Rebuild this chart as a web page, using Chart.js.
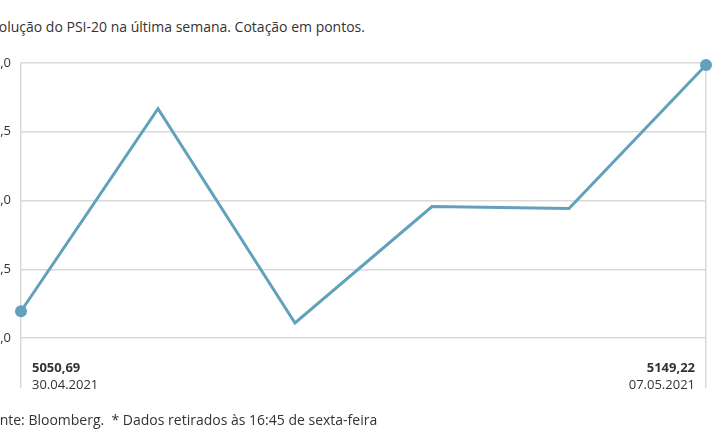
<!DOCTYPE html>
<html lang="pt">
<head>
<meta charset="utf-8">
<script src="https://cdn.jsdelivr.net/npm/chart.js@4/dist/chart.umd.min.js"></script>
<style>
    html, body { margin: 0; padding: 0; background: #fff; overflow: hidden; }
    body { width: 715px; height: 445px; position: relative; font-family: "Open Sans", sans-serif; color: #333; }
    #title { position: absolute; left: -16px; top: 17px; font-size: 14px; white-space: nowrap; }
    #source { position: absolute; left: -16px; top: 410px; font-size: 14px; white-space: nowrap; }
    #wrap { position: absolute; left: -39px; top: 0; width: 754px; height: 445px; }
</style>
</head>
<body>
<div id="title">Evolução do PSI-20 na última semana. Cotação em pontos.</div>
<div id="wrap"><canvas id="psiChart"></canvas></div>
<div id="source">Fonte: Bloomberg.&nbsp; * Dados retirados às 16:45 de sexta-feira</div>
<script>
// Cotação diária do PSI-20 (pontos)
const days = ['30.04.2021', '03.05.2021', '04.05.2021', '05.05.2021', '06.05.2021', '07.05.2021'];
const closes = [5050.69, 5131.7, 5046.0, 5092.6, 5091.8, 5149.22];
const yTicks = [5040, 5067.5, 5095, 5122.5, 5150];

const lineColor = '#62a1bb';
const gridColor = '#d9d9d9';

function formatPt(v, digits) {
    return v.toFixed(digits).replace('.', ',');
}

// Valor e data no início e no fim, por baixo do gráfico
const endLabels = {
    id: 'endLabels',
    afterDraw(chart) {
        const ctx = chart.ctx;
        const x = chart.scales.x;
        const bottom = chart.chartArea.bottom;
        const last = days.length - 1;
        const items = [
            { i: 0, align: 'left', dx: 11 },
            { i: last, align: 'right', dx: -11 }
        ];
        ctx.save();
        ctx.fillStyle = '#333';
        items.forEach(it => {
            const px = x.getPixelForValue(it.i) + it.dx;
            ctx.textAlign = it.align;
            ctx.textBaseline = 'alphabetic';
            ctx.font = 'bold 13px "Open Sans", sans-serif';
            ctx.fillText(formatPt(closes[it.i], 2), px, bottom + 34);
            ctx.font = '13px "Open Sans", sans-serif';
            ctx.fillText(days[it.i], px, bottom + 51);
        });
        ctx.restore();
    }
};

const ctx = document.getElementById('psiChart').getContext('2d');
new Chart(ctx, {
    type: 'line',
    data: {
        labels: days,
        datasets: [{
            data: closes,
            borderColor: lineColor,
            backgroundColor: lineColor,
            borderWidth: 3,
            tension: 0,
            clip: false,
            pointRadius: c => (c.dataIndex === 0 || c.dataIndex === days.length - 1) ? 6 : 0,
            pointBorderWidth: 0
        }]
    },
    options: {
        responsive: true,
        maintainAspectRatio: false,
        animation: false,
        layout: { padding: { top: 63, right: 9, bottom: 57, left: 0 } },
        plugins: {
            legend: { display: false },
            tooltip: { enabled: false }
        },
        scales: {
            x: {
                offset: false,
                border: { display: false },
                grid: {
                    color: c => (c.index === 0 || c.index === days.length - 1) ? gridColor : 'rgba(0,0,0,0)',
                    lineWidth: 1.5,
                    drawTicks: true,
                    tickLength: 50
                },
                ticks: { display: false }
            },
            y: {
                min: yTicks[0],
                max: yTicks[yTicks.length - 1],
                afterBuildTicks: axis => { axis.ticks = yTicks.map(v => ({ value: v })); },
                afterFit: axis => { axis.width = 60; },
                border: { display: false },
                grid: { color: gridColor, lineWidth: 1.5, drawTicks: false },
                ticks: {
                    padding: 10,
                    color: '#333',
                    font: { family: 'Open Sans', size: 13 },
                    callback: v => formatPt(v, 1)
                }
            }
        }
    },
    plugins: [endLabels]
});
</script>
</body>
</html>
